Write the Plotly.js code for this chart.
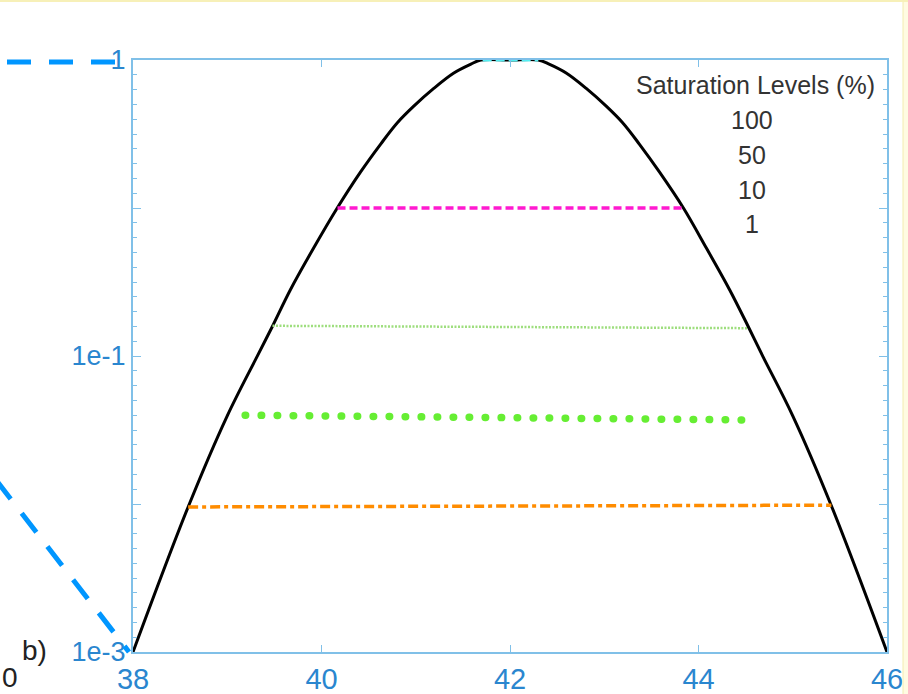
<!DOCTYPE html>
<html>
<head>
<meta charset="utf-8">
<script src="https://cdn.plot.ly/plotly-3.0.1.min.js"></script>
<style>
  html, body { margin: 0; padding: 0; background: #ffffff; }
  #chart { width: 908px; height: 694px; }
</style>
</head>
<body>
<div id="chart"></div>
<script>
// Normalised response profile (x: wavelength-like axis, y: normalised level)
const curveX = [38.0, 38.585, 39.0, 39.316, 39.476, 39.67, 39.915, 40.167, 40.415, 40.628, 40.805, 40.979, 41.191, 41.404, 41.585, 41.69,
                42.0,
                42.3, 42.415, 42.596, 42.809, 43.021, 43.195, 43.372, 43.585, 43.84, 44.085, 44.33, 44.53, 44.684, 45.0, 45.415, 46.0];
const curveY = [0, 0.245, 0.399, 0.499, 0.549, 0.612, 0.682, 0.750, 0.811, 0.858, 0.894, 0.922, 0.952, 0.978, 0.993, 1.0,
                1.0,
                1.0, 0.993, 0.978, 0.952, 0.922, 0.894, 0.858, 0.811, 0.750, 0.682, 0.612, 0.549, 0.499, 0.399, 0.245, 0];

// Saturation level segments
const sat100X = [41.71, 42.3];   const sat100Y = [1.0, 1.0];
const sat50X  = [40.17, 43.84];  const sat50Y  = [0.75, 0.75];
const sat10X  = [39.48, 44.53];  const sat10Y  = [0.551, 0.547];
const sat5X   = [39.19, 44.51];  const sat5Y   = [0.400, 0.392];
const sat1X   = [38.585, 45.41]; const sat1Y   = [0.245, 0.248];

// Axis ticks
const xTicks = [38, 40, 42, 44, 46];
const yTickVals = [0, 0.25, 0.5, 0.75, 1];
const yTickText = ['1e-3', '', '1e-1', '', '1'];

// Legend text
const legendTitle = 'Saturation Levels (%)';
const legendLevels = ['100', '50', '10', '1'];

const axisBlue = '#2a86cf';
const frameBlue = '#80c0e8';
const fontFam = 'Liberation Sans, Arial, sans-serif';

const M = { l: 133, r: 21, t: 60, b: 42 };
const W = 908, H = 694;
const pw = W - M.l - M.r, ph = H - M.t - M.b;
const px = v => (v - M.l) / pw;      // page x pixel -> paper x
const py = v => (H - M.b - v) / ph;  // page y pixel -> paper y

const traces = [
  { x: curveX, y: curveY, mode: 'lines', line: { color: '#000000', width: 3, shape: 'spline', smoothing: 1 }, hoverinfo: 'skip' },
  { x: sat100X, y: sat100Y, mode: 'lines', line: { color: '#55eef2', width: 3, dash: '9px,4px' } },
  { x: sat50X, y: sat50Y, mode: 'lines', line: { color: '#ff1ad0', width: 3.5, dash: '8px,4px' } },
  { x: sat10X, y: sat10Y, mode: 'lines', line: { color: '#9ede7e', width: 2.5, dash: '2px,1.5px' } },
  { x: sat5X, y: sat5Y, mode: 'lines', line: { color: '#66ee33', width: 7.5, dash: '0.5px,15.5px' } },
  { x: sat1X, y: sat1Y, mode: 'lines', line: { color: '#ff8c00', width: 3.5, dash: '10px,4px,4px,4px' } }
];

const annotations = [
  { xref: 'paper', yref: 'paper', x: px(877), y: py(85), xanchor: 'right', yanchor: 'middle',
    text: legendTitle, showarrow: false, font: { family: fontFam, size: 25, color: '#333333' } }
];
const levelYs = [120, 155, 190, 224];
legendLevels.forEach((t, i) => {
  annotations.push({ xref: 'paper', yref: 'paper', x: px(752), y: py(levelYs[i]), xanchor: 'center', yanchor: 'middle',
    text: t, showarrow: false, font: { family: fontFam, size: 25, color: '#333333' } });
});
annotations.push({ xref: 'paper', yref: 'paper', x: px(34), y: py(650), xanchor: 'center', yanchor: 'middle',
  text: 'b)', showarrow: false, font: { family: fontFam, size: 28, color: '#222222' } });
annotations.push({ xref: 'paper', yref: 'paper', x: px(0), y: py(677), xanchor: 'left', yanchor: 'middle',
  text: '0', showarrow: false, font: { family: fontFam, size: 28, color: '#222222' } });

const shapes = [
  // pale border strip
  { type: 'rect', xref: 'paper', yref: 'paper', x0: px(903), x1: px(912), y0: py(700), y1: py(-5),
    fillcolor: '#fffbe2', line: { color: '#f3ecb0', width: 1 } },
  { type: 'line', xref: 'paper', yref: 'paper', x0: px(0), x1: px(908), y0: py(1), y1: py(1),
    line: { color: '#f7f0b8', width: 2 } },
  // zoom guide lines
  { type: 'line', xref: 'paper', yref: 'paper', x0: px(7), x1: px(115), y0: py(62), y1: py(62),
    line: { color: '#0096ff', width: 5, dash: '24px,18px' } },
  { type: 'line', xref: 'paper', yref: 'paper', x0: px(-4), x1: px(129), y0: py(480), y1: py(652),
    line: { color: '#0096ff', width: 5, dash: '24px,18px' } }
];

const layout = {
  width: W, height: H,
  margin: M,
  paper_bgcolor: '#ffffff', plot_bgcolor: '#ffffff',
  showlegend: false,
  font: { family: fontFam },
  xaxis: {
    range: [38, 46], tickmode: 'array', tickvals: xTicks, ticktext: xTicks.map(String),
    showgrid: false, zeroline: false,
    showline: true, linecolor: frameBlue, linewidth: 2, mirror: 'ticks',
    ticks: 'inside', ticklen: 7, tickwidth: 1, tickcolor: frameBlue,
    tickfont: { family: fontFam, size: 29, color: axisBlue }
  },
  yaxis: {
    range: [0, 1], tickmode: 'array', tickvals: yTickVals, ticktext: yTickText,
    showgrid: false, zeroline: false,
    showline: true, linecolor: frameBlue, linewidth: 2, mirror: 'ticks',
    ticks: 'inside', ticklen: 8, tickwidth: 1, tickcolor: frameBlue,
    minor: { tickmode: 'linear', tick0: 0, dtick: 0.025, ticks: 'inside', ticklen: 4, tickwidth: 1, tickcolor: frameBlue },
    tickfont: { family: fontFam, size: 27, color: axisBlue }
  },
  annotations: annotations,
  shapes: shapes
};

Plotly.newPlot('chart', traces, layout, { displayModeBar: false, staticPlot: true }).then(gd => {
  // round caps turn the short dashes of the dotted level into round dots
  const lines = gd.querySelectorAll('.scatterlayer .trace path.js-line');
  if (lines[4]) lines[4].style.strokeLinecap = 'round';
});
</script>
</body>
</html>
